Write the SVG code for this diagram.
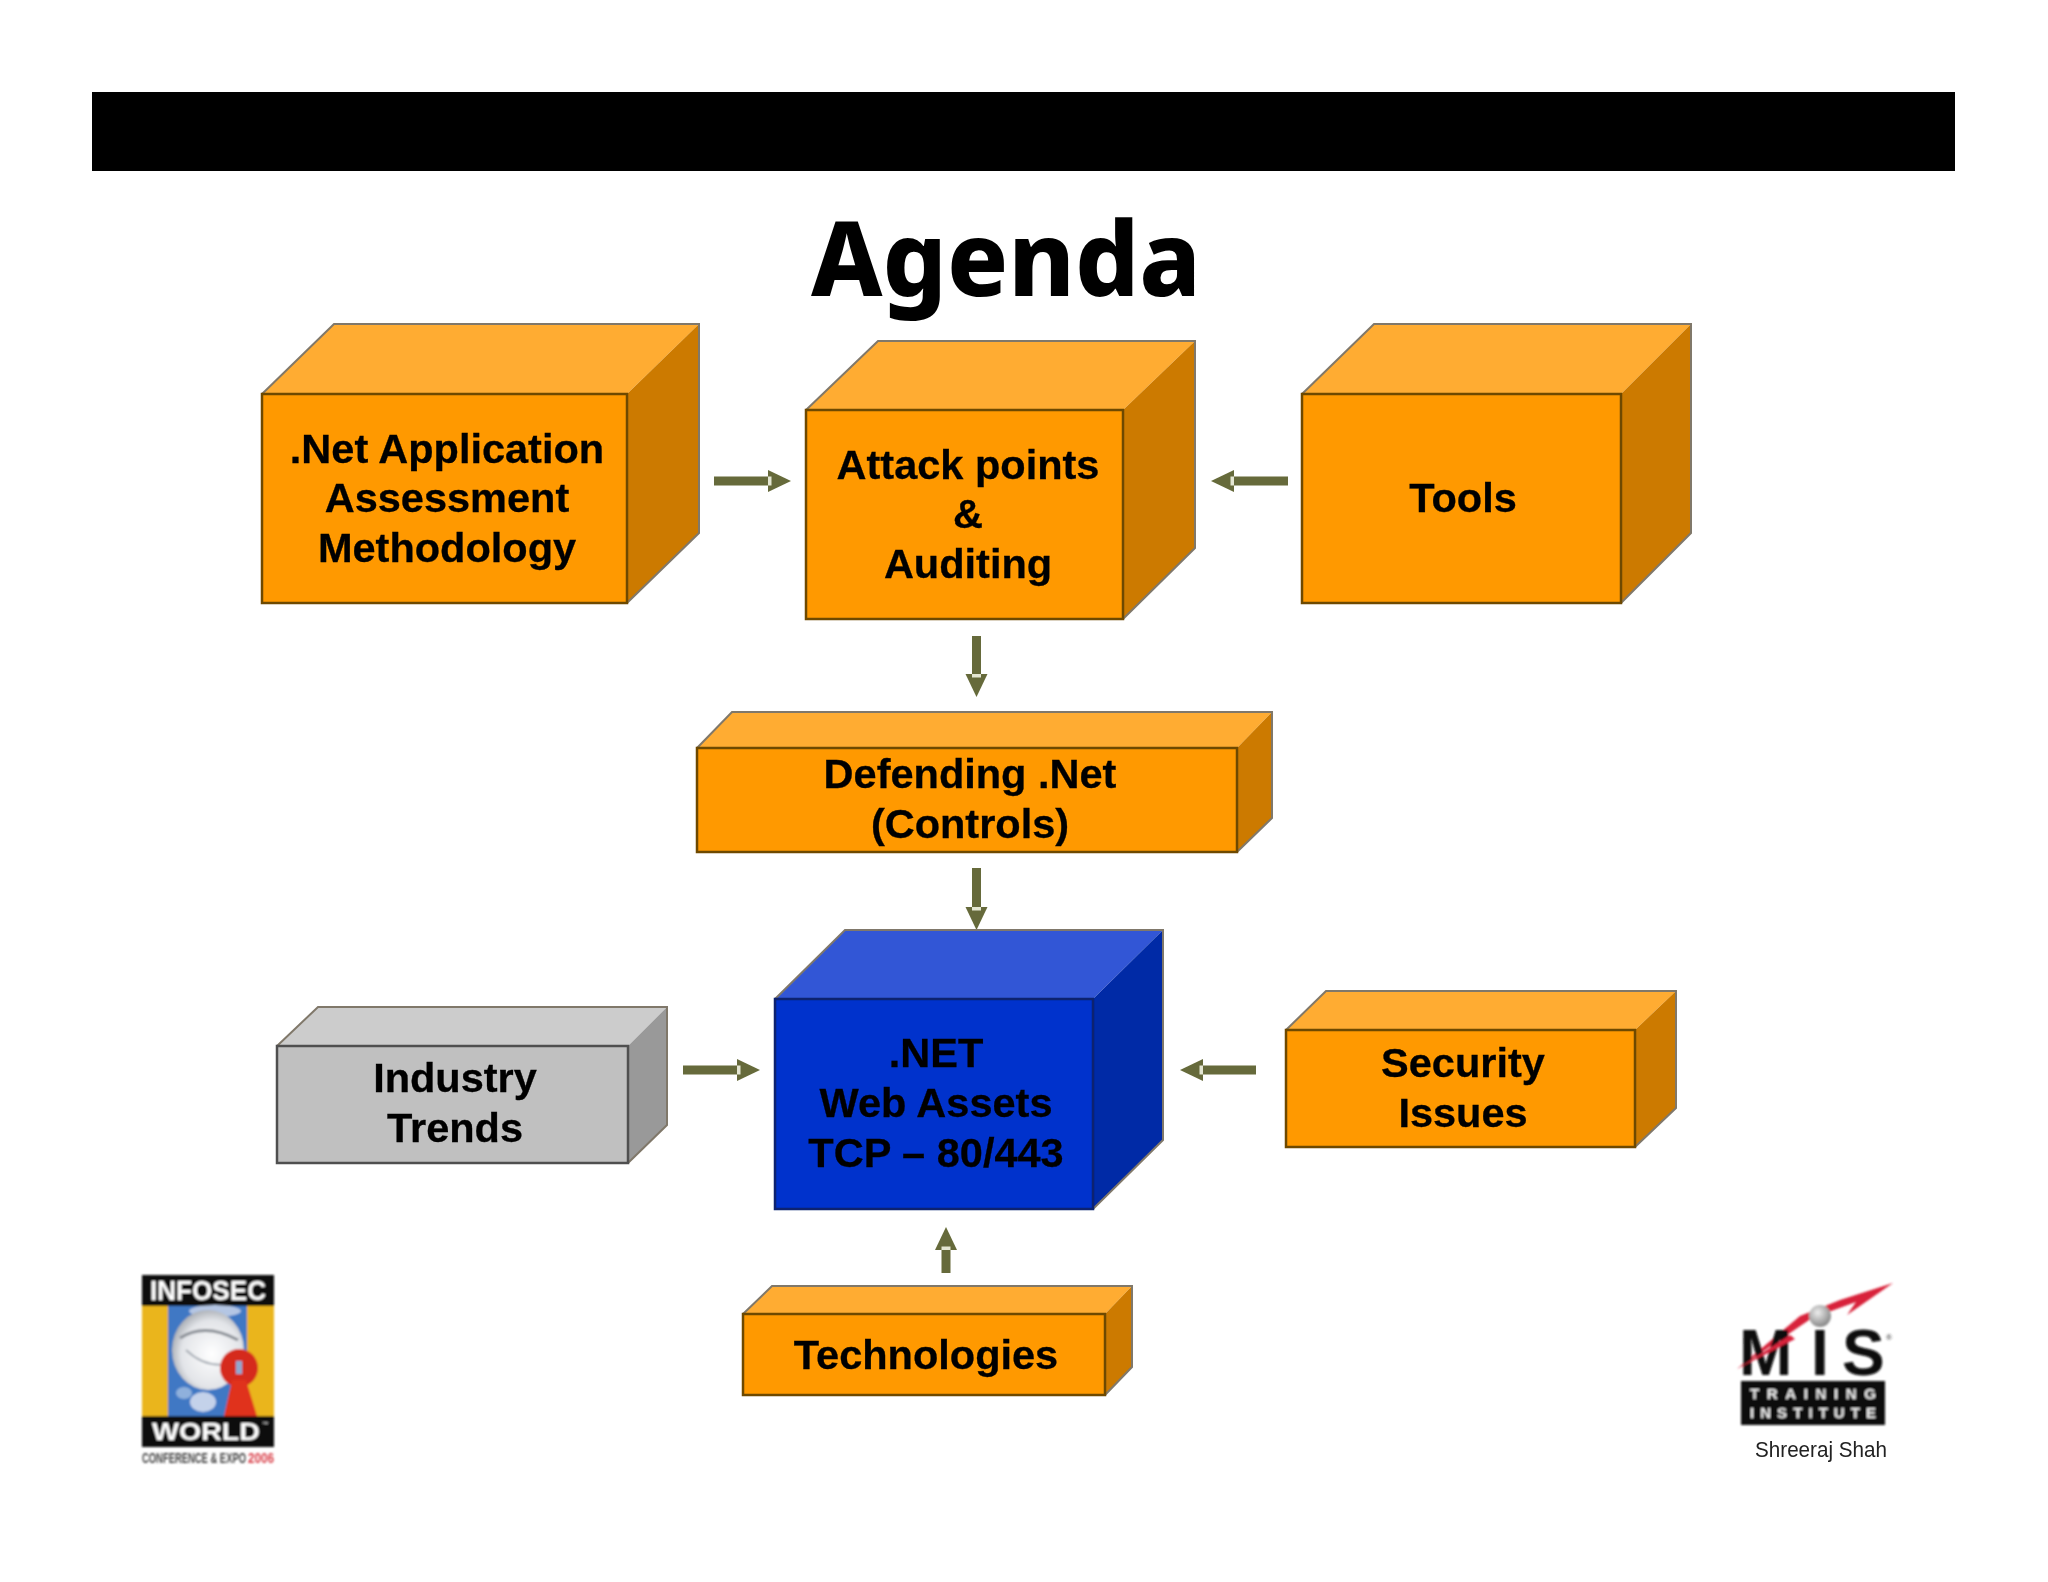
<svg xmlns="http://www.w3.org/2000/svg" width="2048" height="1582" viewBox="0 0 2048 1582">
<style>
.lbl{font-family:"Liberation Sans",Arial,sans-serif;font-weight:700;font-size:41.500px;fill:#000;text-anchor:middle;stroke:#000;stroke-width:.3px}
.or .t{fill:#ffac33}.or .s{fill:#cc7a00}.or .f{fill:#ff9900;stroke:#6e4a00;stroke-width:2.5px}
.bl .t{fill:#3357d6}.bl .s{fill:#0029a6}.bl .f{fill:#0033cc;stroke:#0b2270;stroke-width:2.5px}
.gr .t{fill:#cccccc}.gr .s{fill:#999999}.gr .f{fill:#c0c0c0;stroke:#505050;stroke-width:2.5px}
.e{fill:none;stroke:#80786a;stroke-width:2px}
.c{fill:none;stroke:#666b3a;stroke-width:9px}
.n{filter:url(#fine)}
</style>
<defs>
<marker id="head" markerUnits="userSpaceOnUse" markerWidth="24" markerHeight="26" refX="0" refY="13" orient="auto" viewBox="0 0 24 26">
<path d="M0 2L23 13L0 24Z" fill="#666b3a"/><rect x="0" y="8.500" width="3.500" height="9" fill="#e4e6d2"/>
</marker>
<radialGradient id="ball" cx=".4" cy=".35" r=".7"><stop offset="0" stop-color="#eeeeee"/><stop offset="1" stop-color="#808080"/></radialGradient>
<radialGradient id="eye" cx=".55" cy=".55" r=".6"><stop offset="0" stop-color="#ffffff"/><stop offset=".7" stop-color="#e2e4e8"/><stop offset="1" stop-color="#9ea3aa"/></radialGradient>
<filter id="soft" x="-5%" y="-5%" width="110%" height="110%"><feGaussianBlur stdDeviation=".8"/></filter>
<filter id="fine" x="-5%" y="-5%" width="110%" height="110%"><feGaussianBlur stdDeviation=".6"/></filter>
</defs>
<rect width="2048" height="1582" fill="#ffffff"/>
<rect id="band" x="92" y="92" width="1863" height="79" fill="#000"/>
<g id="title" class="n"><text x="1006" y="296" font-family="'Noto Sans','Liberation Sans',sans-serif" font-weight="800" font-size="104" text-anchor="middle" textLength="390" lengthAdjust="spacingAndGlyphs" fill="#000">Agenda</text></g>

<g id="connectors" class="n">
<path class="c" d="M714 481H768" marker-end="url(#head)"/>
<path class="c" d="M1288 481H1234" marker-end="url(#head)"/>
<path class="c" d="M976.500 636V674" marker-end="url(#head)"/>
<path class="c" d="M976.500 868V907" marker-end="url(#head)"/>
<path class="c" d="M683 1070H737" marker-end="url(#head)"/>
<path class="c" d="M1256 1070H1203" marker-end="url(#head)"/>
<path class="c" d="M946 1273V1250" marker-end="url(#head)"/>
</g>

<g id="node-methodology" class="or n">
<polygon class="t" points="262,394 334,324 699,324 627,394"/><polygon class="s" points="627,394 699,324 699,533 627,603"/>
<path class="e" d="M262 394L334 324H699V533L627 603"/><rect class="f" x="262" y="394" width="365" height="209"/>
<text class="lbl" x="447" y="463">.Net Application</text><text class="lbl" x="447" y="512">Assessment</text><text class="lbl" x="447" y="562">Methodology</text>
</g>
<g id="node-attack" class="or n">
<polygon class="t" points="806,410 878,341 1195,341 1123,410"/><polygon class="s" points="1123,410 1195,341 1195,548 1123,619"/>
<path class="e" d="M806 410L878 341H1195V548L1123 619"/><rect class="f" x="806" y="410" width="317" height="209"/>
<text class="lbl" x="968" y="479">Attack points</text><text class="lbl" x="968" y="528">&amp;</text><text class="lbl" x="968" y="578">Auditing</text>
</g>
<g id="node-tools" class="or n">
<polygon class="t" points="1302,394 1374,324 1691,324 1621,394"/><polygon class="s" points="1621,394 1691,324 1691,533 1621,603"/>
<path class="e" d="M1302 394L1374 324H1691V533L1621 603"/><rect class="f" x="1302" y="394" width="319" height="209"/>
<text class="lbl" x="1463" y="512">Tools</text>
</g>
<g id="node-defending" class="or n">
<polygon class="t" points="697,748 732,712 1272,712 1237,748"/><polygon class="s" points="1237,748 1272,712 1272,818 1237,852"/>
<path class="e" d="M697 748L732 712H1272V818L1237 852"/><rect class="f" x="697" y="748" width="540" height="104"/>
<text class="lbl" x="970" y="788">Defending .Net</text><text class="lbl" x="970" y="838">(Controls)</text>
</g>
<g id="node-assets" class="bl n">
<polygon class="t" points="775,999 845,930 1163,930 1093,999"/><polygon class="s" points="1093,999 1163,930 1163,1140 1093,1209"/>
<path class="e" d="M775 999L845 930H1163V1140L1093 1209"/><rect class="f" x="775" y="999" width="318" height="210"/>
<text class="lbl" x="936" y="1067">.NET</text><text class="lbl" x="936" y="1117">Web Assets</text><text class="lbl" x="936" y="1167">TCP – 80/443</text>
</g>
<g id="node-trends" class="gr n">
<polygon class="t" points="277,1046 318,1007 667,1007 628,1046"/><polygon class="s" points="628,1046 667,1007 667,1125 628,1163"/>
<path class="e" d="M277 1046L318 1007H667V1125L628 1163"/><rect class="f" x="277" y="1046" width="351" height="117"/>
<text class="lbl" x="455" y="1092">Industry</text><text class="lbl" x="455" y="1142">Trends</text>
</g>
<g id="node-security" class="or n">
<polygon class="t" points="1286,1030 1326,991 1676,991 1635,1030"/><polygon class="s" points="1635,1030 1676,991 1676,1108 1635,1147"/>
<path class="e" d="M1286 1030L1326 991H1676V1108L1635 1147"/><rect class="f" x="1286" y="1030" width="349" height="117"/>
<text class="lbl" x="1463" y="1077">Security</text><text class="lbl" x="1463" y="1127">Issues</text>
</g>
<g id="node-technologies" class="or n">
<polygon class="t" points="743,1314 772,1286 1132,1286 1105,1314"/><polygon class="s" points="1105,1314 1132,1286 1132,1367 1105,1395"/>
<path class="e" d="M743 1314L772 1286H1132V1367L1105 1395"/><rect class="f" x="743" y="1314" width="362" height="81"/>
<text class="lbl" x="926" y="1369">Technologies</text>
</g>

<g id="logo-infosec" filter="url(#soft)">
<rect x="142" y="1275" width="132" height="31" fill="#0a0a0a"/>
<rect x="142" y="1306" width="132" height="110" fill="#eab51d"/>
<rect x="168" y="1306" width="79" height="110" fill="#3f78c4"/>
<ellipse cx="215" cy="1311" rx="26" ry="6" fill="#b4c6e4"/>
<ellipse cx="208" cy="1350" rx="36" ry="40" fill="url(#eye)"/>
<path d="M180 1338Q205 1322 238 1340" fill="none" stroke="#8b9097" stroke-width="3"/>
<path d="M186 1350Q205 1368 228 1364" fill="none" stroke="#aab0b8" stroke-width="2"/>
<ellipse cx="203" cy="1402" rx="13" ry="10" fill="#c4d2ea"/>
<ellipse cx="184" cy="1393" rx="8" ry="6" fill="#8fb0dc"/>
<circle cx="239" cy="1368" r="19" fill="#d52a1e"/>
<path d="M232 1380H246L257 1416H224Z" fill="#e0301f"/>
<rect x="236" y="1361" width="6" height="13" fill="#8fa8d0"/>
<rect x="142" y="1416" width="132" height="31" fill="#0a0a0a"/>
<text x="208" y="1300" font-family="'Liberation Sans',sans-serif" font-weight="700" font-size="27" text-anchor="middle" textLength="116" lengthAdjust="spacingAndGlyphs" fill="#fff">INFOSEC</text>
<text x="206" y="1440" font-family="'Liberation Sans',sans-serif" font-weight="700" font-size="24" text-anchor="middle" textLength="108" lengthAdjust="spacingAndGlyphs" fill="#fff">WORLD</text>
<text x="262" y="1426" font-family="'Liberation Sans',sans-serif" font-size="6" fill="#fff">™</text>
<text x="142" y="1463" font-family="'Liberation Sans',sans-serif" font-weight="700" font-size="15" textLength="104" lengthAdjust="spacingAndGlyphs" fill="#444">CONFERENCE &amp; EXPO</text>
<text x="248" y="1463" font-family="'Liberation Sans',sans-serif" font-weight="700" font-size="15" textLength="26" lengthAdjust="spacingAndGlyphs" fill="#d9404a">2006</text>
</g>

<g id="logo-mis" filter="url(#soft)">
<path d="M1893 1283L1847 1315L1856 1302L1812 1318L1737 1369L1800 1316L1840 1300Z" fill="#d8243a"/>
<text x="1739 1811 1842" y="1375" font-family="'Liberation Sans',sans-serif" font-weight="700" font-size="64" fill="#0a0a0a">MIS</text>
<path d="M1737 1369L1790 1335L1795 1339Z" fill="#d8243a"/>
<circle cx="1820" cy="1316" r="11" fill="url(#ball)"/>
<text x="1886" y="1340" font-family="'Liberation Sans',sans-serif" font-size="8" fill="#333">®</text>
<rect x="1741" y="1381" width="144" height="44" fill="#0a0a0a"/>
<text x="1813" y="1399" font-family="'Liberation Sans',sans-serif" font-weight="700" font-size="15" text-anchor="middle" textLength="126" fill="#eee">TRAINING</text>
<text x="1813" y="1418" font-family="'Liberation Sans',sans-serif" font-weight="700" font-size="15" text-anchor="middle" textLength="126" fill="#eee">INSTITUTE</text>
</g>
<text id="author" class="n" x="1821" y="1457" font-family="'Liberation Sans',sans-serif" font-size="22" text-anchor="middle" textLength="132" lengthAdjust="spacingAndGlyphs" fill="#222">Shreeraj Shah</text>
</svg>
